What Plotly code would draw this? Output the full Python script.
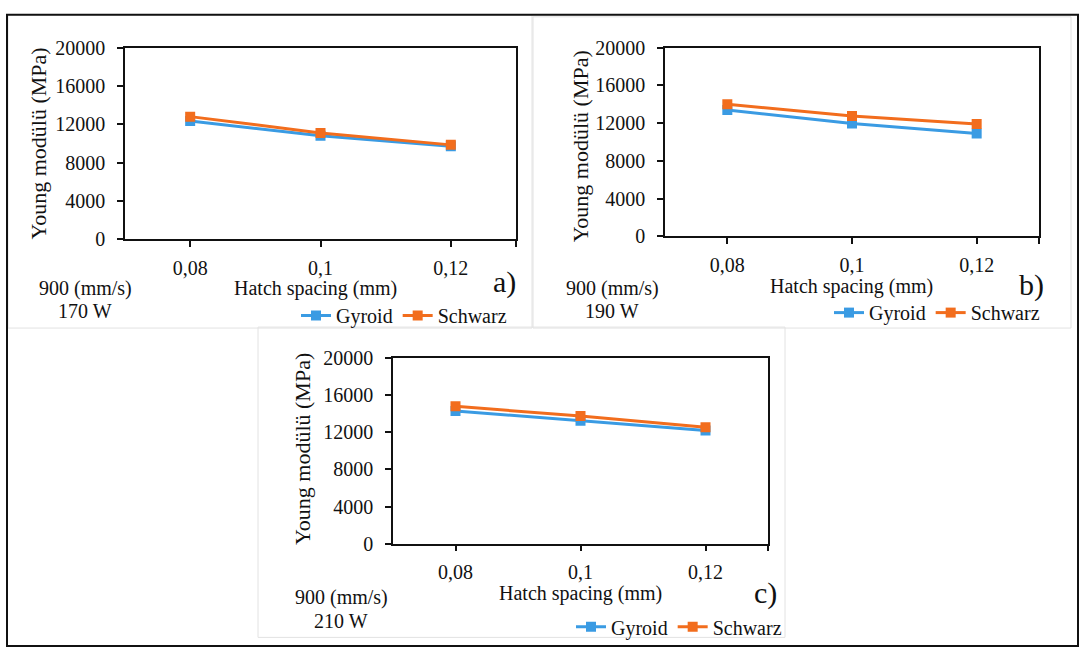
import plotly.graph_objects as go

# Hatch spacing values (mm) and tick labels
hatch = [0.08, 0.10, 0.12]
hatch_ticks = [0.08, 0.10, 0.12, 0.13]
hatch_labels = ["0,08", "0,1", "0,12", ""]

y_ticks = [0, 4000, 8000, 12000, 16000, 20000]
y_labels = ["0", "4000", "8000", "12000", "16000", "20000"]

# Young's modulus (MPa) for each laser power at 900 mm/s
gyroid_170 = [12350, 10800, 9700]
schwarz_170 = [12800, 11100, 9850]
gyroid_190 = [13400, 11950, 10900]
schwarz_190 = [14000, 12750, 11900]
gyroid_210 = [14300, 13250, 12200]
schwarz_210 = [14800, 13750, 12550]

panel_tags = ["a)", "b)", "c)"]
power_labels = ["170 W", "190 W", "210 W"]
speed_label = "900 (mm/s)"

W, H = 1082, 660
BLUE = "#3A9BE3"
ORANGE = "#F26D1D"
FONT = "Liberation Serif"


def X(px):
    return px / W


def Y(py):
    return 1 - py / H


fig = go.Figure()

# plot-area boxes in pixels: (left, top, right, bottom)
boxes = [(125, 38, 516, 236), (665, 38, 1039, 233), (393, 359, 768, 551)]
series = [(gyroid_170, schwarz_170), (gyroid_190, schwarz_190), (gyroid_210, schwarz_210)]
legend_names = ["legend", "legend2", "legend3"]

for i, ((l, t, r, b), (gy, sw)) in enumerate(zip(boxes, series)):
    sfx = "" if i == 0 else str(i + 1)
    for name, vals, col in (("Gyroid", gy, BLUE), ("Schwarz", sw, ORANGE)):
        fig.add_trace(go.Scatter(
            x=hatch, y=vals, name=name, mode="lines+markers",
            line=dict(color=col, width=3),
            marker=dict(symbol="square", size=10, color=col),
            xaxis="x" + sfx, yaxis="y" + sfx, legend=legend_names[i],
        ))
    fig.update_layout(**{
        "xaxis" + sfx: dict(
            domain=[X(l), X(r)], range=[0.07, 0.13], anchor="y" + sfx,
            tickvals=hatch_ticks, ticktext=hatch_labels,
            showline=True, mirror=True, linecolor="#111", linewidth=1.5,
            ticks="outside", ticklen=6, tickwidth=1.5, tickcolor="#111",
            showgrid=False, zeroline=False, ticklabelstandoff=4,
            tickfont=dict(family=FONT, size=20, color="#111"),
        ),
        "yaxis" + sfx: dict(
            domain=[Y(b), Y(t)], range=[0, 20000], anchor="x" + sfx,
            tickvals=y_ticks, ticktext=y_labels,
            showline=True, mirror=True, linecolor="#111", linewidth=1.5,
            ticks="outside", ticklen=6, tickwidth=1.5, tickcolor="#111",
            showgrid=False, zeroline=False, ticklabelstandoff=8,
            tickfont=dict(family=FONT, size=20, color="#111"),
        ),
    })

# axis titles, process labels and panel tags
ann = []
ytitle_pos = [(38, 137), (580, 140), (303, 453)]
xtitle_pos = [(315, 287), (851, 285), (580, 603)]
speed_pos = [(85, 287, 310), (612, 287, 310), (341, 607, 631)]
tag_pos = [(504, 280), (1031, 283), (765, 602)]
for i in range(3):
    ann.append(dict(x=X(ytitle_pos[i][0]), y=Y(ytitle_pos[i][1]), text="Young modülü (MPa)",
                    textangle=-90, font=dict(family=FONT, size=22, color="#111")))
    ann.append(dict(x=X(xtitle_pos[i][0]), y=Y(xtitle_pos[i][1]), text="Hatch spacing (mm)",
                    font=dict(family=FONT, size=20, color="#111")))
    sx, sy1, sy2 = speed_pos[i]
    ann.append(dict(x=X(sx), y=Y(sy1), text=speed_label, font=dict(family=FONT, size=20, color="#111")))
    ann.append(dict(x=X(sx), y=Y(sy2), text=power_labels[i], font=dict(family=FONT, size=20, color="#111")))
    ann.append(dict(x=X(tag_pos[i][0]), y=Y(tag_pos[i][1]), text=panel_tags[i],
                    font=dict(family=FONT, size=30, color="#111")))
for a in ann:
    a.update(xref="paper", yref="paper", showarrow=False, xanchor="center", yanchor="middle")

# legends under each chart
leg_pos = [(296, 315), (829, 312), (571, 637)]
legs = {}
for i, name in enumerate(legend_names):
    legs[name] = dict(
        orientation="h", x=X(leg_pos[i][0]), y=Y(leg_pos[i][1]),
        xanchor="left", yanchor="middle", bgcolor="rgba(0,0,0,0)",
        font=dict(family=FONT, size=20, color="#111"),
        itemwidth=30, tracegroupgap=0,
    )

# chart-area borders and outer frame
shapes = [
    dict(type="rect", x0=X(8), y0=Y(4), x1=X(532), y1=Y(328), line=dict(color="#E2E2E2", width=1)),
    dict(type="rect", x0=X(533), y0=Y(6), x1=X(1071), y1=Y(328), line=dict(color="#E2E2E2", width=1)),
    dict(type="rect", x0=X(258), y0=Y(327), x1=X(785), y1=Y(648), line=dict(color="#E2E2E2", width=1)),
    dict(type="rect", x0=X(7), y0=Y(4), x1=X(1078), y1=Y(657), line=dict(color="#111", width=2)),
]
for s in shapes:
    s.update(xref="paper", yref="paper", layer="below")

fig.update_layout(
    width=W, height=H, margin=dict(l=0, r=0, t=0, b=0),
    paper_bgcolor="white", plot_bgcolor="white",
    showlegend=True, annotations=ann, shapes=shapes, **legs,
)

fig.write_html("out.html")
